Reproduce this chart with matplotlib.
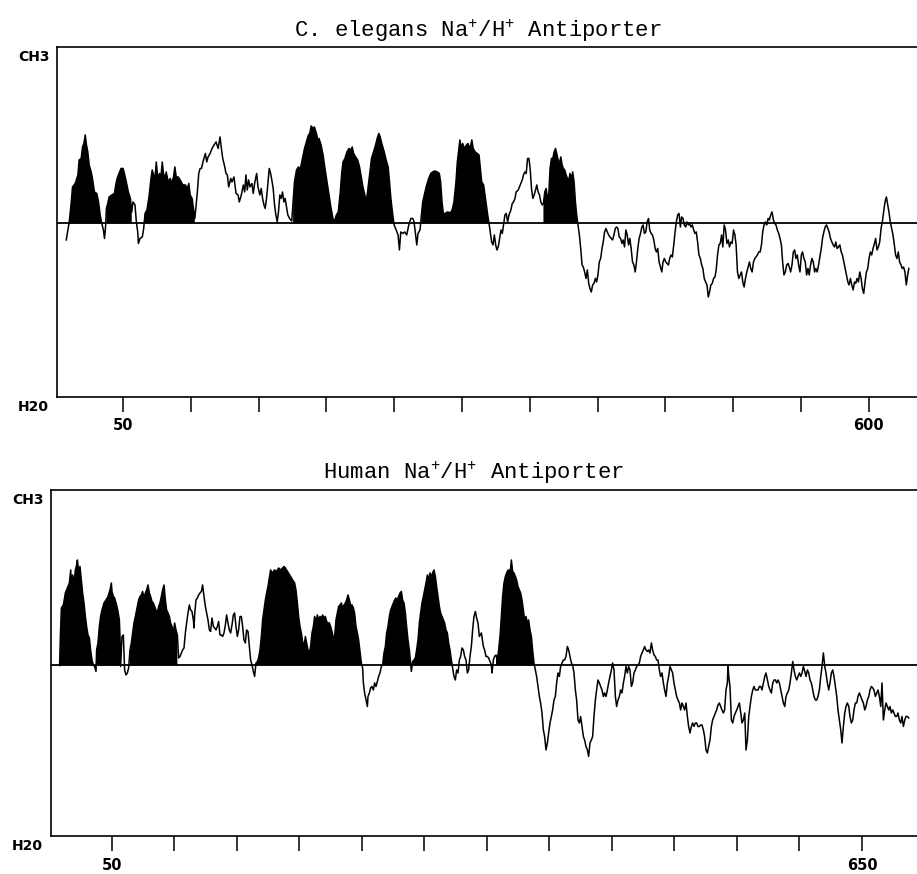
import matplotlib

matplotlib.use("Agg")

import matplotlib.pyplot as plt
import numpy as np


OUTPUT_PATH = "out.png"

TOP_TITLE = "C. elegans Na$^{+}$/H$^{+}$ Antiporter"
BOTTOM_TITLE = "Human Na$^{+}$/H$^{+}$ Antiporter"

# C. elegans profile: residue number and hydropathy value
TOP_RESIDUES = [
    8.1, 9.3, 10.3, 11.8, 12.7, 14.7, 16.7, 17.6, 19.1, 20.1,
    21.1, 22.1, 23.0, 24.0, 25.0, 26.5, 27.4, 28.9, 30.6, 31.9,
    33.1, 34.3, 35.5, 36.3, 37.2, 37.7, 38.7, 39.7, 41.7, 43.6,
    44.6, 45.6, 47.0, 48.5, 50.0, 51.0, 52.4, 53.9, 55.4, 56.4,
    57.3, 58.8, 59.8, 60.8, 61.3, 62.5, 64.2, 65.2, 66.2, 67.6,
    69.1, 70.6, 71.5, 72.5, 73.5, 74.5, 75.5, 76.9, 77.9, 78.9,
    79.9, 80.9, 81.8, 83.3, 84.8, 85.8, 87.2, 88.2, 89.2, 90.7,
    92.1, 94.1, 96.0, 97.5, 98.5, 99.5, 100.9, 101.9, 102.9, 103.9,
    104.9, 105.8, 106.8, 107.8, 109.3, 110.7, 111.7, 112.7, 114.2, 115.6,
    117.1, 118.6, 120.1, 121.5, 122.5, 123.5, 125.0, 125.9, 126.9, 127.9,
    129.4, 130.3, 131.8, 133.3, 134.8, 135.7, 137.2, 138.7, 139.7, 140.6,
    141.6, 142.6, 143.6, 145.0, 146.0, 147.0, 148.5, 149.5, 150.9, 151.9,
    152.9, 153.9, 154.8, 155.8, 156.8, 157.8, 158.8, 159.7, 160.7, 161.7,
    162.7, 163.7, 164.6, 165.6, 166.6, 167.6, 168.6, 169.5, 170.5, 171.5,
    173.0, 174.4, 175.4, 176.4, 177.9, 179.3, 180.8, 182.3, 183.8, 185.2,
    186.7, 187.7, 188.7, 190.1, 191.1, 192.6, 193.6, 194.5, 196.0, 197.5,
    198.9, 200.4, 201.9, 203.4, 204.8, 205.8, 207.3, 208.7, 210.2, 211.2,
    212.2, 213.6, 215.1, 216.6, 218.1, 219.0, 220.0, 221.5, 223.0, 224.4,
    225.4, 226.9, 228.3, 229.3, 230.3, 231.8, 233.2, 234.7, 236.2, 237.7,
    238.6, 239.6, 241.1, 242.6, 244.0, 245.5, 246.5, 247.5, 248.9, 249.9,
    251.4, 252.8, 253.8, 254.8, 256.3, 257.7, 259.2, 260.7, 262.2, 263.6,
    264.6, 265.6, 266.6, 267.5, 269.0, 270.0, 271.0, 272.4, 273.9, 275.4,
    276.9, 278.3, 279.8, 281.8, 283.2, 284.2, 285.2, 286.2, 287.6, 289.1,
    290.6, 292.0, 293.0, 294.0, 295.5, 296.5, 297.4, 298.4, 299.4, 300.4,
    301.8, 303.3, 304.3, 305.8, 307.2, 308.2, 309.7, 311.2, 312.5,
    313.5, 314.5, 315.9, 316.9, 317.9, 318.9, 319.9, 320.8, 321.8, 322.8,
    323.8, 324.8, 325.7, 326.7, 327.7, 328.7, 329.7, 330.6, 331.6, 332.6,
    333.6, 334.6, 336.0, 337.0, 338.0, 339.0, 339.9, 341.4, 342.9, 344.4,
    345.3, 346.3, 347.3, 348.3, 349.3, 350.2, 351.2, 352.2, 353.2, 354.2,
    355.1, 356.1, 357.1, 358.1, 359.1, 360.0, 361.0, 362.0, 363.0, 364.0,
    364.9, 365.9, 366.9, 367.9, 368.9, 369.8, 370.8, 371.8, 372.8, 373.8,
    374.7, 375.7, 376.7, 377.7, 378.7, 379.6, 380.6, 381.6, 382.6, 383.6,
    384.5, 385.5, 386.5, 387.5, 388.5, 389.4, 390.4, 391.4, 392.4, 393.4,
    394.3, 395.3, 396.3, 397.3, 398.3, 399.2, 400.2, 401.2, 402.2, 403.2,
    404.1, 405.1, 406.1, 407.1, 408.1, 409.0, 410.0, 411.0, 412.0, 413.0,
    413.9, 414.9, 415.9, 416.9, 417.9, 418.8, 419.8, 420.8, 421.8, 422.8,
    423.7, 424.7, 425.7, 426.7, 427.7, 428.6, 429.6, 430.6, 431.6, 432.6,
    433.5, 434.5, 435.5, 436.5, 437.5, 438.4, 439.4, 440.4, 441.4, 442.4,
    443.3, 444.3, 445.3, 446.3, 447.3, 448.2, 449.2, 450.2, 451.2, 452.2,
    453.1, 454.1, 455.1, 456.1, 457.1, 458.0, 459.0, 460.0, 461.0, 461.9,
    462.9, 463.9, 464.9, 465.9, 466.9, 467.8, 468.8, 469.8, 470.8, 471.8,
    472.7, 473.7, 474.7, 475.7, 476.7, 477.6, 478.6, 479.6, 480.6, 481.6,
    482.5, 483.5, 484.5, 485.5, 486.5, 487.4, 488.4, 489.4, 490.4, 491.4,
    492.3, 493.3, 494.3, 495.3, 496.3, 497.2, 498.2, 499.2, 500.2, 501.2,
    502.1, 503.1, 504.1, 505.1, 506.1, 507.0, 508.0, 509.0, 510.0, 511.0,
    511.9, 512.9, 513.9, 514.9, 515.9, 516.8, 517.8, 518.8, 519.8, 520.8,
    521.7, 522.7, 523.7, 524.7, 525.7, 526.6, 527.6, 528.6, 529.6, 530.6,
    531.5, 532.5, 533.5, 534.5, 535.5, 536.4, 537.4, 538.4, 539.4, 540.4,
    541.3, 542.3, 543.3, 544.3, 545.3, 546.2, 547.2, 548.2, 549.2, 550.2,
    551.1, 552.1, 553.1, 554.1, 555.1, 556.0, 557.0, 558.0, 559.0, 560.0,
    560.9, 561.9, 562.9, 563.9, 564.9, 565.8, 566.8, 567.8, 568.8, 569.8,
    570.7, 571.7, 572.7, 573.7, 574.7, 575.6, 576.6, 577.6, 578.6, 579.6,
    580.5, 581.5, 582.5, 583.5, 584.5, 585.4, 586.4, 587.4, 588.4, 589.4,
    590.3, 591.3, 592.3, 593.3, 594.3, 595.2, 596.2, 597.2, 598.2, 599.2,
    600.1, 601.1, 602.1, 603.1, 604.1, 605.0, 606.0, 607.0, 608.0, 609.0,
    609.9, 610.9, 611.9, 612.9, 613.9, 614.8, 615.8, 616.8, 617.8, 618.8,
    619.7, 620.7, 621.7, 622.7, 623.7, 624.6, 625.6, 626.6, 627.6, 628.6,
    629.5,
]
TOP_VALUES = [
    -0.33, -0.13, 0.03, 0.43, 0.73, 0.80, 0.97, 1.27, 1.30, 1.53,
    1.60, 1.77, 1.57, 1.43, 1.17, 1.03, 0.90, 0.63, 0.60, 0.43,
    0.17, 0.00, -0.13, -0.30, -0.03, 0.30, 0.40, 0.53, 0.57, 0.60,
    0.77, 0.90, 1.00, 1.10, 1.10, 1.00, 0.83, 0.63, 0.50, 0.23,
    0.43, 0.37, 0.03, -0.17, -0.40, -0.30, -0.27, -0.10, 0.20, 0.27,
    0.53, 0.90, 1.07, 0.97, 0.90, 1.23, 0.93, 1.00, 0.93, 1.23,
    0.97, 0.93, 1.03, 0.83, 0.90, 0.80, 0.93, 1.13, 0.93, 0.93,
    0.87, 0.77, 0.77, 0.70, 0.80, 0.57, 0.50, 0.30, 0.10, 0.37,
    0.67, 1.00, 1.10, 1.10, 1.27, 1.40, 1.23, 1.33, 1.40, 1.50,
    1.57, 1.63, 1.50, 1.73, 1.50, 1.30, 1.13, 1.00, 0.97, 0.73,
    0.90, 0.83, 0.93, 0.60, 0.57, 0.43, 0.57, 0.77, 0.63, 0.97,
    0.67, 0.87, 0.73, 0.80, 0.60, 0.80, 1.00, 0.73, 0.57, 0.70,
    0.50, 0.37, 0.30, 0.50, 0.80, 1.10, 1.00, 0.87, 0.70, 0.37,
    0.17, 0.03, 0.23, 0.57, 0.50, 0.63, 0.43, 0.50, 0.33, 0.17,
    0.09, 0.05, 0.43, 0.83, 1.07, 1.13, 1.10, 1.30, 1.50, 1.63,
    1.77, 1.80, 1.95, 1.90, 1.93, 1.80, 1.67, 1.70, 1.57, 1.37,
    1.10, 0.83, 0.57, 0.30, 0.10, 0.03, 0.17, 0.23, 0.63, 1.00,
    1.23, 1.30, 1.43, 1.50, 1.47, 1.53, 1.40, 1.33, 1.27, 1.13,
    0.97, 0.73, 0.57, 0.43, 0.63, 0.97, 1.30, 1.43, 1.57, 1.73,
    1.80, 1.73, 1.57, 1.43, 1.27, 1.13, 0.83, 0.50, 0.17, -0.03,
    -0.13, -0.23, -0.53, -0.17, -0.20, -0.17, -0.23, -0.03, 0.10, 0.10,
    0.03, -0.20, -0.43, -0.20, -0.13, 0.17, 0.43, 0.60, 0.77, 0.90,
    1.00, 1.03, 1.05, 1.03, 1.00, 0.83, 0.43, 0.20, 0.20, 0.23,
    0.22, 0.23, 0.30, 0.43, 0.83, 1.23, 1.43, 1.67, 1.50, 1.60,
    1.50, 1.57, 1.60, 1.50, 1.67, 1.50, 1.43, 1.40, 1.37,
    1.10, 0.83, 0.77, 0.57, 0.37, 0.17, 0.00, -0.17, -0.37, -0.43,
    -0.23, -0.43, -0.53, -0.47, -0.30, -0.13, -0.20, -0.03, 0.17, 0.20,
    0.03, 0.17, 0.27, 0.40, 0.43, 0.50, 0.63, 0.67, 0.77, 0.87,
    0.97, 1.03, 1.00, 1.30, 1.30, 1.10, 0.70, 0.50, 0.57, 0.67,
    0.77, 0.63, 0.57, 0.43, 0.37, 0.40, 0.63, 0.70, 0.50, 0.60,
    1.10, 1.30, 1.30, 1.43, 1.50, 1.40, 1.27, 1.20, 1.33, 1.17,
    1.10, 1.07, 0.97, 0.90, 0.87, 1.00, 0.90, 1.03, 0.83, 0.43,
    0.17, -0.03, -0.23, -0.50, -0.83, -0.87, -0.97, -1.10, -0.93, -1.20,
    -1.30, -1.37, -1.23, -1.20, -1.10, -1.17, -1.03, -0.77, -0.70, -0.50,
    -0.37, -0.17, -0.10, -0.17, -0.23, -0.27, -0.30, -0.33, -0.23, -0.10,
    -0.07, -0.10, -0.27, -0.30, -0.40, -0.33, -0.47, -0.13, -0.23, -0.43,
    -0.30, -0.50, -0.77, -0.83, -0.97, -0.77, -0.50, -0.30, -0.20, -0.07,
    -0.03, -0.20, -0.17, 0.03, 0.10, -0.13, -0.20, -0.23, -0.33, -0.50,
    -0.57, -0.50, -0.77, -0.87, -0.97, -0.77, -0.70, -0.77, -0.80, -0.83,
    -0.70, -0.63, -0.67, -0.43, -0.17, 0.03, 0.17, 0.20, -0.07, 0.13,
    0.10, -0.03, -0.07, 0.03, -0.03, 0.00, -0.07, -0.03, -0.13, -0.20,
    -0.17, -0.37, -0.63, -0.70, -0.83, -0.90, -1.10, -1.17, -1.23, -1.47,
    -1.37, -1.23, -1.20, -1.10, -1.07, -0.93, -0.63, -0.43, -0.40, -0.23,
    -0.47, -0.03, -0.13, -0.40, -0.33, -0.47, -0.37, -0.40, -0.13, -0.23,
    -0.43, -0.97, -1.10, -1.03, -0.97, -1.17, -1.27, -1.10, -0.97, -0.87,
    -0.77, -0.90, -0.97, -0.77, -0.70, -0.67, -0.63, -0.57, -0.57, -0.43,
    -0.17, -0.03, 0.03, -0.03, 0.10, 0.07, 0.17, 0.23, 0.07, 0.00,
    -0.03, -0.13, -0.20, -0.30, -0.43, -0.77, -1.03, -0.97, -0.83, -0.80,
    -0.87, -0.97, -0.83, -0.57, -0.53, -0.70, -0.63, -0.83, -0.97, -0.63,
    -0.57, -0.70, -0.77, -1.03, -0.90, -1.03, -0.83, -0.70, -0.77, -0.97,
    -0.90, -0.97, -0.83, -0.67, -0.50, -0.30, -0.17, -0.07, -0.03, -0.10,
    -0.17, -0.30, -0.37, -0.43, -0.47, -0.37, -0.50, -0.47, -0.43, -0.57,
    -0.63, -0.77, -0.90, -1.03, -1.17, -1.23, -1.10, -1.23, -1.33, -1.17,
    -1.20, -1.10, -1.17, -0.97, -1.10, -1.30, -1.40, -1.17, -0.97, -0.90,
    -0.70, -0.57, -0.63, -0.50, -0.40, -0.30, -0.53, -0.47, -0.37, -0.10,
    0.03, 0.23, 0.43, 0.53, 0.37, 0.23, 0.03, -0.10, -0.23, -0.43,
    -0.63, -0.70, -0.57, -0.77, -0.83, -0.90, -0.87, -0.97, -1.23, -1.03,
    -0.90,
]
# residue ranges drawn as black (predicted membrane spans)
TOP_FILLED_SEGMENTS = [
    (10, 34.5), (37.5, 56.5), (66, 103), (175, 206),
    (207, 250), (270, 320), (360, 385.5),
]
TOP_TICKS = [50, 100, 150, 200, 250, 300, 350, 400, 450, 500, 550, 600]
TOP_TICK_LABELS = ["50", "", "", "", "", "", "", "", "", "", "", "600"]

# Human profile
BOTTOM_RESIDUES = [
    8.1, 8.7, 9.5, 11.1, 12.7, 14.3, 15.9, 17.0, 17.5, 18.5,
    19.6, 20.7, 21.7, 22.3, 23.3, 24.4, 25.5, 26.5, 27.6, 28.7,
    29.7, 30.8, 31.9, 32.9, 34.0, 35.1, 36.1, 37.2, 37.7, 38.8,
    39.9, 40.9, 42.0, 43.6, 45.2, 46.8, 48.4, 49.5, 50.0, 51.1,
    52.1, 53.7, 54.8, 55.9, 56.4, 56.9, 58.0, 59.1, 60.1, 61.2,
    62.3, 63.3, 64.4, 65.5, 66.5, 67.6, 68.7, 70.3, 71.3, 72.4,
    73.5, 74.5, 75.6, 76.7, 77.7, 78.8, 79.9, 80.9, 82.0, 83.1,
    84.1, 85.2, 86.3, 87.3, 88.4, 89.5, 90.5, 91.6, 92.7, 93.7,
    94.8, 95.9, 96.9, 98.0, 99.1, 100.1, 101.2, 102.3, 103.3, 104.4,
    105.5, 106.5, 107.6, 108.7, 109.7, 110.8, 111.9, 112.9, 114.0, 115.1,
    115.6, 116.1, 117.2, 118.3, 119.3, 120.4, 121.5, 122.5, 123.6, 124.7,
    125.7, 126.8, 127.9, 128.9, 130.0, 131.1, 132.1, 133.2, 134.3, 135.3,
    136.4, 137.5, 138.5, 139.6, 140.7, 141.7, 142.8, 143.9, 144.9, 146.0,
    147.1, 148.1, 149.2, 150.3, 151.3, 152.4, 153.5, 154.5, 155.6, 156.7,
    157.7, 158.8, 159.9, 160.9, 162.0, 163.1, 164.1, 165.2, 166.3, 167.3,
    168.4, 169.5, 170.5, 171.6, 172.7, 173.7, 174.8, 175.9, 176.9, 178.0,
    179.1, 180.1, 181.7, 183.3, 184.9, 186.5, 187.6, 188.7, 189.7, 191.3,
    192.9, 194.5, 196.1, 197.2, 198.3, 199.3, 200.4, 201.5, 202.5, 203.6,
    204.7, 205.7, 206.8, 207.9, 208.9, 210.0, 211.1, 212.1, 213.2, 214.3,
    215.3, 216.4, 217.5, 218.5, 219.6, 220.7, 221.7, 222.8, 223.9, 224.9,
    226.0, 227.1, 228.1, 229.2, 230.3, 231.3, 232.4, 233.5, 234.5, 235.6,
    236.7, 237.7, 238.8, 239.9, 240.9, 242.0, 243.1, 244.1, 245.2, 246.3,
    247.3, 248.4, 249.5, 250.5, 251.1, 252.1, 253.2, 254.3, 254.8, 255.9,
    256.9, 258.0, 259.1, 260.1, 261.2, 262.3, 263.3, 264.4, 265.5, 266.5,
    267.6, 268.7, 269.7, 270.8, 271.9, 272.9, 274.0, 275.1, 276.1, 277.2,
    278.3, 279.3, 280.4, 281.5, 282.5, 283.6, 284.7, 285.7, 286.8, 287.9,
    288.9, 289.5, 290.5, 291.6, 292.7, 293.7, 294.8, 295.9, 296.9, 298.0,
    299.1, 300.1, 301.2, 302.3, 303.3, 304.4, 305.5, 306.5, 307.6, 308.7,
    309.7, 310.8, 311.9, 312.9, 314.0, 315.1, 316.1, 317.2, 318.3, 319.3,
    320.4, 321.5, 322.5, 323.6, 324.7, 325.7, 326.8, 327.9, 328.9, 330.0,
    331.1, 332.1, 333.2, 334.3, 335.3, 336.4, 337.5, 338.5, 339.6, 340.7,
    341.7, 342.8, 343.9, 345.5, 347.1, 348.1, 349.2, 350.3, 351.3, 352.4,
    353.5, 354.0, 355.1, 356.1, 357.2, 358.3, 359.3, 360.4, 361.5, 362.5,
    363.6, 364.7, 365.7, 366.8, 367.9, 368.9, 369.5, 370.5, 371.6, 372.7,
    373.7, 374.8, 375.9, 376.9, 378.0, 379.1, 380.1, 381.2, 382.3, 383.3,
    384.4, 385.5, 386.5, 387.6, 388.7, 389.7, 390.8, 391.9, 392.9, 394.0,
    395.1, 396.1, 397.2, 398.3, 399.3, 400.4, 401.5, 402.5, 403.6, 404.7,
    405.7, 406.8, 407.9, 408.9, 410.0, 411.1, 412.1, 413.2, 414.3, 415.3,
    416.4, 417.5, 418.5, 419.6, 420.7, 421.7, 422.8, 423.9, 424.9, 426.0,
    427.1, 428.1, 429.2, 430.3, 431.3, 432.4, 433.5, 434.5, 435.6, 436.7,
    437.7, 438.8, 439.9, 440.9, 442.0, 443.1, 444.1, 445.2, 446.3, 447.3,
    448.4, 449.5, 450.5, 451.6, 452.7, 453.7, 454.8, 455.9, 456.9, 458.0,
    459.1, 460.1, 461.2, 462.3, 463.3, 464.4, 465.5, 466.5, 467.6, 468.7,
    469.7, 470.8, 471.9, 472.9, 474.0, 475.1, 476.1, 477.2, 478.3, 479.3,
    480.4, 481.5, 482.5, 483.6, 484.7, 485.7, 486.8, 487.9, 488.9, 490.0,
    491.1, 492.1, 493.2, 494.3, 495.3, 496.4, 497.5, 498.5, 499.6, 500.7,
    501.7, 502.8, 503.9, 504.9, 506.0, 507.1, 508.1, 509.2, 510.3, 511.3,
    512.4, 513.5, 514.5, 515.6, 516.7, 517.7, 518.8, 519.9, 520.9, 522.0,
    523.1, 524.1, 525.2, 526.3, 527.3, 528.4, 529.5, 530.5, 531.6, 532.7,
    533.7, 534.8, 535.9, 536.9, 538.0, 539.1, 540.1, 541.2, 542.3, 542.8,
    543.4, 544.4, 545.5, 546.6, 547.6, 548.7, 549.8, 550.8, 551.9, 553.0,
    554.0, 555.1, 556.2, 557.2, 558.3, 559.4, 560.4, 561.5, 562.6, 563.6,
    564.7, 565.8, 566.8, 567.9, 569.0, 570.0, 571.1, 572.2, 573.2, 574.3,
    575.4, 576.4, 577.5, 578.6, 579.6, 580.7, 581.8, 582.8, 583.9, 585.0,
    586.0, 587.1, 588.2, 589.2, 590.3, 591.4, 592.4, 593.5, 594.6, 595.6,
    596.7, 597.8, 598.8, 599.9, 601.0, 602.0, 603.1, 604.2, 605.2, 606.3,
    607.4, 608.4, 609.5, 610.6, 611.6, 612.7, 613.8, 614.8, 615.9, 617.0,
    618.0, 619.1, 620.2, 621.2, 622.3, 623.4, 624.4, 625.5, 626.6, 627.6,
    628.7, 629.8, 630.8, 631.9, 633.0, 634.0, 635.1, 636.2, 637.2, 638.3,
    639.4, 640.4, 641.5, 642.6, 643.6, 644.7, 645.8, 646.8, 647.9, 649.0,
    650.0, 651.1, 652.2, 653.2, 654.3, 655.4, 656.4, 657.5, 658.6, 659.6,
    660.7, 661.8, 662.8, 663.9, 665.0, 666.0, 667.1, 668.2, 669.2, 670.3,
    671.4, 672.4, 673.5, 674.6, 675.6, 676.7, 677.8, 678.8, 679.9, 681.0,
    682.0, 683.1, 684.2, 685.2, 686.3, 687.4,
]
BOTTOM_VALUES = [
    0.00, 0.58, 1.15, 1.21, 1.45, 1.55, 1.65, 1.91, 1.58, 1.81,
    1.65, 1.91, 2.01, 2.11, 1.91, 1.98, 1.71, 1.45, 1.25, 0.98,
    0.78, 0.61, 0.55, 0.31, 0.11, 0.01, -0.02, -0.12, 0.31, 0.45,
    0.78, 0.98, 1.11, 1.25, 1.31, 1.38, 1.51, 1.65, 1.48, 1.38,
    1.35, 1.21, 1.08, 0.91, 0.58, -0.02, 0.58, 0.61, -0.09, -0.19,
    -0.15, -0.05, 0.31, 0.45, 0.65, 0.85, 0.98, 1.18, 1.31, 1.38,
    1.41, 1.48, 1.35, 1.45, 1.51, 1.61, 1.45, 1.38, 1.28, 1.25,
    1.18, 1.11, 1.05, 1.18, 1.25, 1.38, 1.51, 1.61, 1.31, 1.11,
    1.05, 0.98, 0.85, 0.78, 0.65, 0.85, 0.71, 0.61, 0.15, 0.18,
    0.25, 0.31, 0.35, 0.65, 0.85, 1.05, 1.21, 1.11, 1.08, 0.91,
    0.75, 1.01, 1.31, 1.35, 1.41, 1.45, 1.48, 1.61, 1.38, 1.18,
    1.05, 0.91, 0.71, 0.68, 0.95, 0.78, 0.75, 0.71, 0.78, 0.88,
    0.61, 0.61, 0.58, 0.65, 0.81, 1.01, 0.85, 0.71, 0.65, 0.81,
    1.01, 1.05, 0.78, 0.58, 0.71, 0.98, 0.98, 0.78, 0.51, 0.45,
    0.71, 0.68, 0.38, 0.11, 0.01, -0.12, -0.22, 0.05, 0.08, 0.15,
    0.31, 0.58, 0.91, 1.11, 1.31, 1.45, 1.58, 1.75, 1.91, 1.85,
    1.88, 1.91, 1.88, 1.95, 1.91, 1.95, 1.98, 1.95, 1.91, 1.85,
    1.78, 1.71, 1.65, 1.51, 1.25, 0.98, 0.78, 0.65, 0.48, 0.38,
    0.58, 0.45, 0.31, 0.25, 0.38, 0.65, 0.78, 0.98, 0.88, 1.01,
    0.91, 0.98, 0.95, 1.01, 0.95, 0.98, 0.88, 0.85, 0.85, 0.78,
    0.68, 0.55, 0.58, 0.91, 1.05, 1.18, 1.21, 1.25, 1.15, 1.21,
    1.25, 1.31, 1.41, 1.31, 1.21, 1.21, 1.15, 1.05, 0.78, 0.65,
    0.51, 0.28, 0.05, -0.05, -0.35, -0.55, -0.69, -0.82, -0.62, -0.55,
    -0.45, -0.42, -0.49, -0.35, -0.42, -0.32, -0.22, -0.15, -0.02, 0.01,
    0.25, 0.38, 0.65, 0.78, 0.98, 1.11, 1.18, 1.25, 1.31, 1.35,
    1.31, 1.38, 1.45, 1.48, 1.31, 1.25, 1.05, 0.78, 0.51, 0.31,
    0.05, -0.12, 0.08, 0.11, 0.15, 0.31, 0.51, 0.85, 1.05, 1.25,
    1.38, 1.51, 1.65, 1.81, 1.71, 1.85, 1.78, 1.85, 1.91, 1.78,
    1.58, 1.38, 1.18, 1.05, 0.98, 0.91, 0.85, 0.71, 0.65, 0.45,
    0.31, 0.11, -0.05, -0.22, -0.29, -0.09, -0.15, 0.11, 0.18, 0.35,
    0.31, 0.18, 0.11, -0.15, -0.09, 0.18, 0.38, 0.71, 0.98, 1.08,
    0.95, 0.85, 0.58, 0.65, 0.38, 0.31, 0.18, 0.18, 0.15, 0.08,
    0.01, -0.15, 0.11, 0.18, 0.21, 0.11, 0.31, 0.58, 0.98, 1.38,
    1.65, 1.78, 1.85, 1.91, 1.88, 1.95, 2.11, 1.88, 1.85, 1.78,
    1.71, 1.58, 1.51, 1.45, 1.31, 1.11, 0.91, 0.98, 0.85, 0.91,
    0.71, 0.58, 0.31, 0.05, -0.09, -0.22, -0.42, -0.62, -0.75, -0.95,
    -1.29, -1.42, -1.69, -1.55, -1.35, -1.15, -1.02, -0.89, -0.69, -0.62,
    -0.35, -0.15, -0.22, -0.02, 0.05, 0.11, 0.11, 0.18, 0.38, 0.31,
    0.18, 0.05, 0.01, -0.15, -0.49, -0.69, -1.09, -1.15, -1.02, -1.22,
    -1.42, -1.49, -1.62, -1.69, -1.82, -1.55, -1.49, -1.42, -1.02, -0.69,
    -0.49, -0.29, -0.35, -0.42, -0.49, -0.62, -0.55, -0.62, -0.49, -0.35,
    -0.22, -0.09, 0.05, -0.09, -0.62, -0.82, -0.69, -0.62, -0.49, -0.55,
    -0.35, -0.22, -0.02, -0.15, -0.02, -0.09, -0.42, -0.35, -0.15, -0.09,
    -0.02, 0.01, 0.05, 0.18, 0.25, 0.31, 0.38, 0.31, 0.28, 0.31,
    0.25, 0.45, 0.31, 0.21, 0.18, 0.11, 0.11, -0.09, -0.22, -0.15,
    -0.35, -0.49, -0.62, -0.35, -0.22, -0.02, -0.09, -0.15, -0.35, -0.49,
    -0.62, -0.69, -0.75, -0.89, -0.75, -0.82, -0.89, -0.75, -1.02, -1.22,
    -1.35, -1.22, -1.15, -1.22, -1.15, -1.15, -1.22, -1.22, -1.19, -1.19,
    -1.29, -1.42, -1.69, -1.75, -1.62, -1.49, -1.22, -1.09, -1.02, -0.95,
    -0.89, -0.79, -0.75, -0.82, -0.89, -0.95, -0.89, -0.49, -0.35, 0.01,
    -0.22, -0.42, -1.09, -1.15, -1.02, -0.95, -0.89, -0.82, -0.75, -0.95,
    -1.15, -1.09, -0.95, -1.69, -1.49, -1.02, -0.82, -0.62, -0.49, -0.42,
    -0.49, -0.49, -0.49, -0.42, -0.42, -0.49, -0.35, -0.22, -0.15, -0.29,
    -0.42, -0.49, -0.55, -0.35, -0.29, -0.29, -0.35, -0.29, -0.35, -0.49,
    -0.62, -0.75, -0.82, -0.62, -0.55, -0.49, -0.35, -0.15, 0.08, -0.09,
    -0.22, -0.29, -0.22, -0.15, -0.22, -0.15, -0.02, -0.12, -0.22, -0.09,
    -0.15, -0.29, -0.35, -0.49, -0.62, -0.69, -0.69, -0.62, -0.49, -0.22,
    -0.02, 0.25, -0.02, -0.15, -0.35, -0.49, -0.35, -0.15, -0.09, -0.22,
    -0.42, -0.62, -0.89, -1.09, -1.29, -1.55, -1.22, -0.95, -0.82, -0.75,
    -0.82, -1.02, -1.15, -1.09, -0.89, -0.75, -0.75, -0.62, -0.55, -0.62,
    -0.69, -0.75, -0.89, -0.82, -0.69, -0.62, -0.49, -0.42, -0.45, -0.49,
    -0.62, -0.55, -0.49, -0.62, -0.82, -0.35, -1.09, -0.89, -0.75, -0.82,
    -0.89, -0.82, -0.95, -0.89, -0.95, -1.02, -1.02, -0.95, -1.09, -1.15,
    -1.02, -1.22, -1.09, -1.02, -1.02, -1.05,
]
BOTTOM_FILLED_SEGMENTS = [
    (8, 36.5), (37.5, 56.5), (64, 102.5), (165, 250.5),
    (266, 289), (290.5, 322.5), (357, 388),
]
BOTTOM_TICKS = [50, 100, 150, 200, 250, 300, 350, 400, 450, 500, 550, 600, 650]
BOTTOM_TICK_LABELS = ["50", "", "", "", "", "", "", "", "", "", "", "", "650"]


def draw_profile(
    axis,
    residues: list[float],
    values: list[float],
    filled_segments: list[tuple[float, float]],
    ticks: list[int],
    tick_labels: list[str],
    x_limits: tuple[float, float],
    y_limits: tuple[float, float],
) -> None:
    """Draw one hydropathy profile with the membrane spans filled black."""
    residues = np.asarray(residues)
    values = np.asarray(values)

    in_segment = np.zeros(len(residues), dtype=bool)
    for start, end in filled_segments:
        in_segment |= (residues >= start) & (residues <= end)

    axis.fill_between(
        residues,
        np.maximum(values, 0),
        0,
        where=in_segment,
        color="black",
        linewidth=0,
    )
    axis.plot(residues, values, color="black", linewidth=1.1)
    axis.axhline(0, color="black", linewidth=1.3)

    axis.set_xlim(*x_limits)
    axis.set_ylim(*y_limits)
    axis.spines["right"].set_visible(False)
    for side in ("left", "top", "bottom"):
        axis.spines[side].set_linewidth(1.2)

    axis.set_yticks([])
    axis.set_xticks(ticks)
    axis.set_xticklabels(tick_labels, fontsize=10.5, fontweight="bold")
    axis.tick_params(axis="x", direction="out", length=11, width=1.1, pad=4.5)

    axis.annotate(
        "CH3", xy=(0, 1), xycoords="axes fraction",
        xytext=(-5, -2), textcoords="offset points",
        ha="right", va="top", fontsize=10, fontweight="bold",
    )
    axis.annotate(
        "H20", xy=(0, 0), xycoords="axes fraction",
        xytext=(-6, -2), textcoords="offset points",
        ha="right", va="top", fontsize=10, fontweight="bold",
    )


def main() -> None:
    plt.rcParams["mathtext.fontset"] = "custom"
    plt.rcParams["mathtext.rm"] = "Liberation Mono"
    plt.rcParams["mathtext.it"] = "Liberation Mono"

    figure = plt.figure(figsize=(9.17, 8.74), dpi=100)

    top_axis = figure.add_axes([0.0622, 0.5458, 0.9378, 0.4005])
    draw_profile(
        top_axis, TOP_RESIDUES, TOP_VALUES, TOP_FILLED_SEGMENTS,
        TOP_TICKS, TOP_TICK_LABELS, (1.3, 635.5), (-3.47, 3.53),
    )
    figure.text(
        0.5213, 0.9582, TOP_TITLE, ha="center", va="baseline",
        family="Liberation Mono", fontsize=16,
    )

    bottom_axis = figure.add_axes([0.0556, 0.0435, 0.9444, 0.3959])
    draw_profile(
        bottom_axis, BOTTOM_RESIDUES, BOTTOM_VALUES, BOTTOM_FILLED_SEGMENTS,
        BOTTOM_TICKS, BOTTOM_TICK_LABELS, (1.2, 694), (-3.41, 3.51),
    )
    figure.text(
        0.5158, 0.452, BOTTOM_TITLE, ha="center", va="baseline",
        family="Liberation Mono", fontsize=16,
    )

    figure.savefig(OUTPUT_PATH, dpi=100)
    plt.close(figure)


if __name__ == "__main__":
    main()
